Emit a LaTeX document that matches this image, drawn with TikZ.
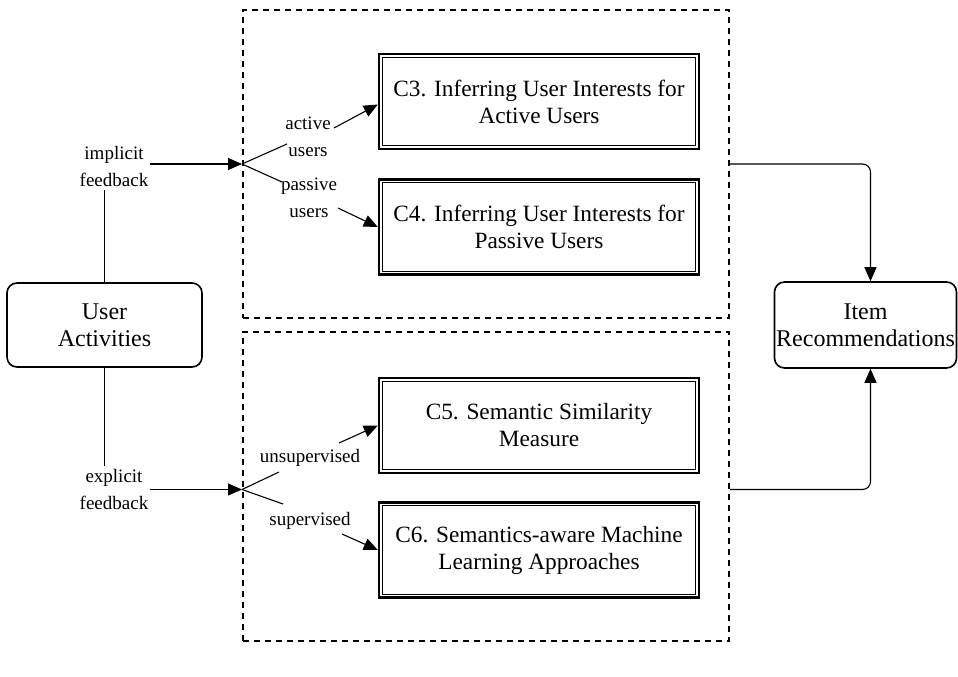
\documentclass[tikz,border=0pt]{standalone}
\usepackage{fontspec}
\setmainfont{Liberation Serif}
\usetikzlibrary{arrows.meta,calc}
\begin{document}
\begin{tikzpicture}[x=1pt,y=-1pt,
  ctxt/.style={font=\fontsize{24}{27}\selectfont, align=center},
  ctxtb/.style={font=\fontsize{23.3}{27}\selectfont, align=center},
  lbl/.style={font=\fontsize{19}{27}\selectfont, align=center, inner sep=0pt},
  cbox/.style={draw, line width=2.4pt, minimum width=320pt, minimum height=95pt, inner sep=0pt, ctxtb},
  rbox/.style={draw, line width=1.6pt, rounded corners=10pt, inner sep=0pt, ctxt},
  dbox/.style={draw, line width=2pt, dash pattern=on 6pt off 5pt, minimum width=486pt, inner sep=0pt},
  conn/.style={line width=1.1pt},
  arr/.style={conn, -{Triangle[length=14pt,width=12pt]}}
]
\useasboundingbox (0,0) rectangle (958,677);
\fill[white] (0,0) rectangle (958,677);

% dashed groups
\node[dbox, minimum height=308pt] (topbox) at (486,164) {};
\node[dbox, minimum height=309pt] (botbox) at (486,486.5) {};

% components
\node[cbox] (c3) at (539,101.5) {C3. Inferring User Interests for\\Active Users};
\node[cbox] (c4) at (539,227) {C4. Inferring User Interests for\\Passive Users};
\node[cbox] (c5) at (539,425.5) {C5. Semantic Similarity\\Measure};
\node[cbox] (c6) at (539,550) {C6. Semantics-aware Machine\\Learning Approaches};
\foreach \n in {c3,c4,c5,c6}
  \draw[line width=0.9pt] ($(\n.north west)+(4.5,4.5)$) rectangle ($(\n.south east)+(-4.5,-4.5)$);

% end boxes
\node[rbox, minimum width=195pt, minimum height=84pt] (ua) at (104.5,325) {User\\Activities};
\node[rbox, minimum width=182pt, minimum height=86pt] (item) at (865.5,325) {Item\\Recommendations};

% labels
\node[lbl] (impl) at (114,166.5) {implicit\\feedback};
\node[lbl] (expl) at (114,489.5) {explicit\\feedback};
\node[lbl] (act) at (308,136.5) {active\\users};
\node[lbl] (pas) at (309,198) {passive\\users};
\node[lbl] (uns) at (310,458) {unsupervised};
\node[lbl] (sup) at (310,521) {supervised};

% free ends of the split lines
\coordinate (jact) at (287,144);
\coordinate (sact) at (334,128);
\coordinate (jpas) at (282,182);
\coordinate (spas) at (338,208);
\coordinate (juns) at (279,472);
\coordinate (suns) at (339,443);
\coordinate (jsup) at (283,504);
\coordinate (ssup) at (342,534);

% user activities to feedback labels
\draw[conn] (ua.north) -- ($(ua.north |- impl.south)+(0,3)$);
\draw[conn] (ua.south) -- ($(ua.south |- expl.north)+(0,-3)$);
\draw[arr] ($(impl.east |- topbox.west)+(2,0)$) -- (topbox.west);
\draw[arr] ($(expl.east)+(2,0)$) -- (expl.east -| botbox.west);

% splits
\draw[conn] (topbox.west) -- (jact);
\draw[conn] (topbox.west) -- (jpas);
\draw[arr] (sact) -- ($(c3.west)+(0,3)$);
\draw[arr] (spas) -- (c4.west);
\draw[conn] (expl.east -| botbox.west) -- (juns);
\draw[conn] (expl.east -| botbox.west) -- (jsup);
\draw[arr] (suns) -- (c5.west);
\draw[arr] (ssup) -- (c6.west);

% to item recommendations
\draw[arr, rounded corners=8pt] (topbox.east) -| ($(item.north)+(5,0)$);
\draw[arr, rounded corners=8pt] (expl.east -| botbox.east) -| ($(item.south)+(5,0)$);
\end{tikzpicture}
\end{document}
